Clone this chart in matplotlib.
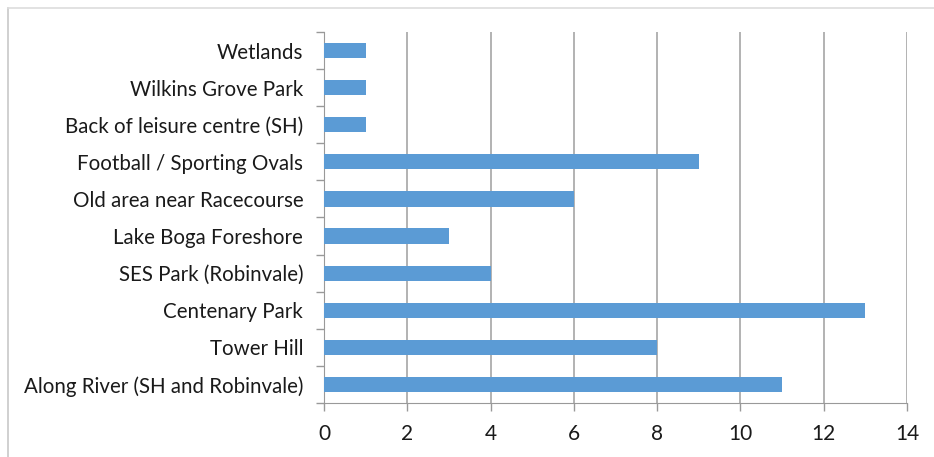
import matplotlib
matplotlib.use('Agg')
from matplotlib import pyplot as plt
from matplotlib.lines import Line2D

# Data (bottom to top as drawn)
categories = ['Along River (SH and Robinvale)', 'Tower Hill', 'Centenary Park',
              'SES Park (Robinvale)', 'Lake Boga Foreshore', 'Old area near Racecourse',
              'Football / Sporting Ovals', 'Back of leisure centre (SH)',
              'Wilkins Grove Park', 'Wetlands']
values = [11, 8, 13, 4, 3, 6, 9, 1, 1, 1]
x_ticks = [0, 2, 4, 6, 8, 10, 12, 14]

plt.rcParams['font.family'] = ['Lato', 'DejaVu Sans']

fig = plt.figure(figsize=(9.34, 4.57), dpi=100)
ax = fig.add_axes([324 / 934, 1 - 403 / 457, (907 - 324) / 934, (403 - 32) / 457])

pos = list(range(len(categories)))
ax.barh(pos, values, height=0.41, color='#5B9BD5', zorder=3)

ax.set_xlim(0, 14)
ax.set_ylim(-0.5, len(categories) - 0.5)
ax.set_xticks(x_ticks)
ax.set_xticklabels([str(t) for t in x_ticks], fontsize=15, color='#1a1a1a')
ax.set_yticks(pos)
ax.set_yticklabels(categories, fontsize=14.8, color='#1a1a1a')
ax.tick_params(axis='y', length=0, pad=15)
ax.set_yticks([p - 0.5 for p in pos] + [len(categories) - 0.5], minor=True)
ax.tick_params(axis='y', which='minor', length=6, color='#999999', width=1)
ax.tick_params(axis='x', length=6, color='#999999', width=1, pad=9)

ax.grid(axis='x', color='#a6a6a6', linewidth=1.2, zorder=0)
for side in ['top', 'right']:
    ax.spines[side].set_visible(False)
ax.spines['left'].set_color('#999999')
ax.spines['bottom'].set_color('#999999')

# outer border (left and top only)
fig.add_artist(Line2D([8 / 934, 8 / 934], [0, 1 - 8 / 457], color='#c8c8c8', linewidth=1.2))
fig.add_artist(Line2D([8 / 934, 1], [1 - 8 / 457, 1 - 8 / 457], color='#dddddd', linewidth=1.2))

fig.savefig('out.png', dpi=100)
